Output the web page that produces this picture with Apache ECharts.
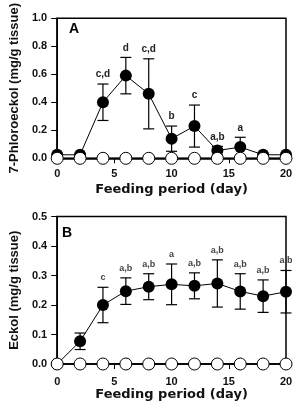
<!DOCTYPE html>
<html>
<head>
<meta charset="utf-8">
<script src="https://cdn.jsdelivr.net/npm/echarts@6/dist/echarts.min.js"></script>
<style>
  html, body { margin: 0; padding: 0; background: #fff; }
  #main { width: 298px; height: 404px; }
</style>
</head>
<body>
<div id="main"></div>
<script>
  // feeding days (x) and tick labels
  var days = [0, 2, 4, 6, 8, 10, 12, 14, 16, 18, 20];
  var xTicks = [0, 5, 10, 15, 20];
  var yTicksA = [0, 0.2, 0.4, 0.6, 0.8, 1.0];
  var yTicksB = [0, 0.1, 0.2, 0.3, 0.4, 0.5];

  // panel A: 7-phloroeckol
  var phloroMean = [0.025, 0.025, 0.40, 0.59, 0.46, 0.14, 0.23, 0.055, 0.08, 0.025, 0.025];
  var phloroSd = [0, 0, 0.13, 0.13, 0.25, 0.09, 0.15, 0.03, 0.07, 0, 0];
  var phloroLetters = ['', '', 'c,d', 'd', 'c,d', 'b', 'c', 'a,b', 'a', '', ''];
  var phloroControl = [0, 0, 0, 0, 0, 0, 0, 0, 0, 0, 0];

  // panel B: eckol
  var eckolMean = [0, 0.077, 0.20, 0.247, 0.262, 0.27, 0.265, 0.273, 0.246, 0.23, 0.245];
  var eckolSd = [0, 0.028, 0.06, 0.045, 0.044, 0.069, 0.044, 0.08, 0.06, 0.055, 0.072];
  var eckolLetters = ['', '', 'c', 'a,b', 'a,b', 'a', 'a,b', 'a,b', 'a,b', 'a,b', 'a,b'];
  var eckolControl = [0, 0, 0, 0, 0, 0, 0, 0, 0, 0, 0];

  function pairs(ys) {
    return days.map(function (d, i) { return [d, ys[i]]; });
  }

  function errSeries(idx, mean, sd, letters, fontSize, color) {
    return {
      type: 'custom',
      xAxisIndex: idx,
      yAxisIndex: idx,
      z: 2,
      data: days.map(function (d, i) { return [d, mean[i], sd[i]]; }),
      renderItem: function (params, api) {
        var x = api.value(0), m = api.value(1), s = api.value(2);
        var hi = api.coord([x, m + s]);
        var lo = api.coord([x, m - s]);
        var kids = [];
        var ls = { stroke: '#000', lineWidth: 1.2 };
        if (s > 0) {
          kids.push({ type: 'line', shape: { x1: hi[0], y1: hi[1], x2: lo[0], y2: lo[1] }, style: ls });
          kids.push({ type: 'line', shape: { x1: hi[0] - 5.5, y1: hi[1], x2: hi[0] + 5.5, y2: hi[1] }, style: ls });
          kids.push({ type: 'line', shape: { x1: lo[0] - 5.5, y1: lo[1], x2: lo[0] + 5.5, y2: lo[1] }, style: ls });
        }
        var t = letters[params.dataIndex];
        if (t) {
          kids.push({
            type: 'text',
            style: {
              text: t, x: hi[0], y: hi[1] - 9.5,
              align: 'center', verticalAlign: 'middle',
              font: 'bold ' + fontSize + 'px "Liberation Sans", Arial, sans-serif',
              fill: color
            }
          });
        }
        return { type: 'group', children: kids };
      }
    };
  }

  function meanSeries(idx, mean) {
    return {
      type: 'line', xAxisIndex: idx, yAxisIndex: idx, z: 3,
      data: pairs(mean),
      symbol: 'circle', symbolSize: 12,
      itemStyle: { color: '#000' },
      lineStyle: { color: '#000', width: 1 }
    };
  }

  function controlSeries(idx, vals) {
    return {
      type: 'line', xAxisIndex: idx, yAxisIndex: idx, z: 4,
      data: pairs(vals),
      symbol: 'circle', symbolSize: 12,
      itemStyle: { color: '#fff', borderColor: '#000', borderWidth: 1 },
      lineStyle: { color: '#000', width: 1 }
    };
  }

  var tickFont = { fontFamily: '"Liberation Sans", Arial, sans-serif', fontWeight: 'bold', fontSize: 11, color: '#111' };

  function xAx(idx, margin, gap) {
    return {
      gridIndex: idx, type: 'value',
      min: xTicks[0], max: xTicks[xTicks.length - 1], interval: xTicks[1] - xTicks[0],
      name: 'Feeding period (day)', nameLocation: 'middle', nameGap: gap,
      nameTextStyle: { fontFamily: '"DejaVu Sans", sans-serif', fontWeight: 'bold', fontSize: 13, color: '#111' },
      axisLine: { lineStyle: { color: '#000', width: 1.5 } },
      axisTick: { length: 5, lineStyle: { color: '#000', width: 1 } },
      axisLabel: Object.assign({ margin: margin }, tickFont),
      splitLine: { show: false }
    };
  }

  function yAx(idx, ticks, name, gap) {
    return {
      gridIndex: idx, type: 'value',
      min: ticks[0], max: ticks[ticks.length - 1], interval: ticks[1] - ticks[0],
      name: name, nameLocation: 'middle', nameGap: gap,
      nameTextStyle: { fontFamily: '"Liberation Sans", Arial, sans-serif', fontWeight: 'bold', fontSize: 13, color: '#111' },
      axisLine: { lineStyle: { color: '#000', width: 1.5 } },
      axisTick: { length: 6, lineStyle: { color: '#000', width: 1 } },
      axisLabel: Object.assign({ margin: 10, formatter: function (v) { return v.toFixed(1); } }, tickFont),
      splitLine: { show: false }
    };
  }

  var option = {
    animation: false,
    backgroundColor: '#fff',
    grid: [
      { left: 56.5, right: 12, top: 12, height: 146.3, show: true, borderColor: '#000', borderWidth: 1.5 },
      { left: 53, right: 12, top: 216.5, height: 147.5, show: true, borderColor: '#000', borderWidth: 1.5 }
    ],
    xAxis: [xAx(0, 10, 25), xAx(1, 12.5, 21)],
    yAxis: [
      yAx(0, yTicksA, '7-Phloroeckol (mg/g tissue)', 35),
      yAx(1, yTicksB, 'Eckol (mg/g tissue)', 36)
    ],
    graphic: [
      { type: 'text', x: 74, y: 29, style: { text: 'A', align: 'center', verticalAlign: 'middle', font: 'bold 14px "Liberation Sans", Arial, sans-serif', fill: '#000' } },
      { type: 'text', x: 67, y: 233, style: { text: 'B', align: 'center', verticalAlign: 'middle', font: 'bold 14px "Liberation Sans", Arial, sans-serif', fill: '#000' } }
    ],
    series: [
      errSeries(0, phloroMean, phloroSd, phloroLetters, 10, '#222'),
      meanSeries(0, phloroMean),
      controlSeries(0, phloroControl),
      errSeries(1, eckolMean, eckolSd, eckolLetters, 9, '#444'),
      meanSeries(1, eckolMean),
      controlSeries(1, eckolControl)
    ]
  };

  var myChart = echarts.init(document.getElementById('main'));
  myChart.setOption(option);
</script>
</body>
</html>
